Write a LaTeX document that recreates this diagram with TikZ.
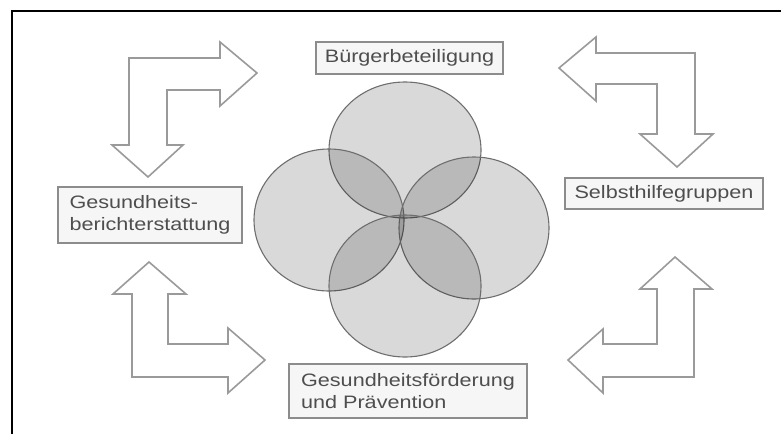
\documentclass[tikz,border=0pt]{standalone}
\usepackage{fontspec}
\setmainfont{Liberation Sans}[FakeStretch=1.2]
\usepackage{tikz}
\usetikzlibrary{positioning}
\definecolor{boxgray}{HTML}{8C8C8C}
\definecolor{boxfill}{HTML}{F6F6F6}
\definecolor{textgray}{HTML}{4E4E4E}
\definecolor{arrowgray}{HTML}{9A9A9A}
\definecolor{petalline}{HTML}{6E6E6E}

\begin{document}
\begin{tikzpicture}[x=1pt,y=-1pt,
  box/.style={draw=boxgray,fill=boxfill,line width=1.2pt,text=textgray,
    font=\fontsize{18}{21.6}\selectfont,inner sep=0pt,align=left},
  bentarrow/.style={draw=arrowgray,fill=white,line width=1.6pt,line join=miter},
  petal/.style={draw=petalline,fill=black,fill opacity=0.15,line width=1.1pt}]
  \useasboundingbox (0,0) rectangle (781,434);
  \draw[line width=2pt] (12,434) -- (12,11) -- (781,11);
  \draw[petal] (405,150) ellipse [x radius=76pt, y radius=68pt];
  \draw[petal] (329,220) ellipse [x radius=75pt, y radius=71pt];
  \draw[petal] (474,228) ellipse [x radius=75pt, y radius=71pt];
  \draw[petal] (405,286) ellipse [x radius=76pt, y radius=71pt];
  \draw[bentarrow] (148,177) -- (183,145) -- (167,145) -- (167,90) -- (220,90) -- (220,106)
    -- (257,73) -- (220,42) -- (220,58) -- (129,58) -- (129,145) -- (112,145) -- cycle;
  \draw[bentarrow] (559,68) -- (596,37) -- (596,53) -- (695,53) -- (695,134) -- (713,134)
    -- (677,167) -- (640,134) -- (657,134) -- (657,84) -- (596,84) -- (596,101) -- cycle;
  \draw[bentarrow] (149,262) -- (186,294) -- (168,294) -- (168,344) -- (228,344) -- (228,328)
    -- (265,360) -- (228,393) -- (228,377) -- (132,377) -- (132,294) -- (113,294) -- cycle;
  \draw[bentarrow] (675,257) -- (712,289) -- (694,289) -- (694,377) -- (603,377) -- (603,393)
    -- (568,360) -- (603,329) -- (603,344) -- (657,344) -- (657,289) -- (640,289) -- cycle;
  \node[box,minimum width=187pt,minimum height=32pt] (buerger) at (409.5,58) {Bürgerbeteiligung};
  \node[box,minimum width=184pt,minimum height=56pt] (bericht) at (150,215) {Gesundheits-\\berichterstattung};
  \node[box,minimum width=198pt,minimum height=31pt] (selbst) at (664,193.5) {Selbsthilfegruppen};
  \node[box,minimum width=238pt,minimum height=54pt] (foerder) at (408,391) {Gesundheitsförderung\\und Prävention};
\end{tikzpicture}
\end{document}
